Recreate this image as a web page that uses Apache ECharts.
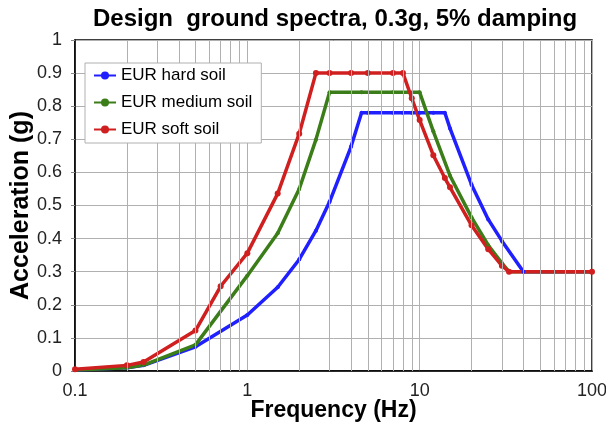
<!DOCTYPE html>
<html>
<head>
<meta charset="utf-8">
<script src="https://cdn.jsdelivr.net/npm/echarts@6/dist/echarts.min.js"></script>
<style>
  html, body { margin: 0; padding: 0; background: #fff; }
  #chart { width: 606px; height: 423px; }
</style>
</head>
<body>
<div id="chart"></div>
<script>
// frequencies (Hz) and spectral accelerations (g)
var hardFreq = [0.1, 0.2, 0.25, 0.5, 1, 1.5, 2, 2.5, 3, 4, 4.6, 5, 7, 8, 9, 10, 12, 14, 15, 20, 25, 30, 40, 100]
var hardAcc = [0.003, 0.01, 0.017, 0.073, 0.169, 0.253, 0.337, 0.424, 0.511, 0.678, 0.78, 0.78, 0.78, 0.78, 0.78, 0.78, 0.78, 0.78, 0.733, 0.563, 0.458, 0.393, 0.3, 0.3]

var mediumFreq = [0.1, 0.2, 0.25, 0.5, 1, 1.5, 2, 2.5, 3, 4.6, 7, 10, 12, 15, 20, 25, 30, 33, 100]
var mediumAcc = [0.003, 0.01, 0.018, 0.079, 0.288, 0.416, 0.55, 0.699, 0.842, 0.842, 0.842, 0.842, 0.724, 0.59, 0.464, 0.38, 0.326, 0.3, 0.3]

var softFreq = [0.1, 0.2, 0.25, 0.5, 0.7, 1, 1.5, 2, 2.5, 3, 4, 5, 7, 8, 9, 10, 12, 14, 15, 20, 25, 30, 33, 100]
var softAcc = [0.005, 0.017, 0.027, 0.122, 0.256, 0.356, 0.536, 0.717, 0.9, 0.9, 0.9, 0.9, 0.9, 0.9, 0.824, 0.758, 0.652, 0.583, 0.555, 0.44, 0.368, 0.318, 0.3, 0.3]

var seriesNames = ['EUR hard soil', 'EUR medium soil', 'EUR soft soil']
var yTicks = [0, 0.1, 0.2, 0.3, 0.4, 0.5, 0.6, 0.7, 0.8, 0.9, 1]
// minor log grid lines (2..9 in each decade)
var minorGridFreqs = [0.2, 0.3, 0.4, 0.5, 0.6, 0.7, 0.8, 0.9, 2, 3, 4, 5, 6, 7, 8, 9, 20, 30, 40, 50, 60, 70, 80, 90]

function pairs(xs, ys) {
  var out = []
  for (var i = 0; i < xs.length; i++) {
    out.push([xs[i], ys[i]])
  }
  return out
}

var font = 'Liberation Sans, Arial, Helvetica, sans-serif'
var gridColor = '#b0b0b0'

function lineSeries(name, data, color, symbolSize) {
  return {
    name: name,
    type: 'line',
    data: data,
    symbol: 'circle',
    symbolSize: symbolSize,
    showSymbol: true,
    itemStyle: { color: color },
    lineStyle: { color: color, width: 3.5 },
    z: 3,
    animation: false
  }
}

var chart = echarts.init(document.getElementById('chart'))
chart.setOption({
  backgroundColor: '#fff',
  title: {
    text: 'Design  ground spectra, 0.3g, 5% damping',
    left: 88,
    top: 2,
    textStyle: { fontFamily: font, fontWeight: 'bold', fontSize: 24, color: '#000' }
  },
  grid: {
    left: 75,
    right: 14,
    top: 40,
    bottom: 52,
    containLabel: false,
    outerBoundsMode: 'none',
    show: true,
    borderColor: '#000',
    borderWidth: 1.5,
    backgroundColor: '#fff'
  },
  legend: {
    orient: 'vertical',
    left: 85,
    top: 63,
    z: 10,
    data: seriesNames,
    backgroundColor: '#fff',
    borderColor: '#b0b0b0',
    borderWidth: 1,
    padding: [4, 9, 5, 8],
    itemGap: 10,
    itemWidth: 22,
    itemHeight: 10,
    textStyle: { fontFamily: font, fontSize: 17, color: '#000' }
  },
  xAxis: {
    type: 'log',
    logBase: 10,
    min: 0.1,
    max: 100,
    name: 'Frequency (Hz)',
    nameLocation: 'middle',
    nameMoveOverlap: false,
    nameGap: 28,
    nameTextStyle: { fontFamily: font, fontWeight: 'bold', fontSize: 23, color: '#000' },
    axisLine: { show: true, lineStyle: { color: '#000', width: 1.5 } },
    axisTick: { show: false },
    axisLabel: {
      fontFamily: font, fontSize: 18, color: '#222', margin: 11,
      formatter: function (v) { return String(v) }
    },
    splitLine: { show: true, lineStyle: { color: gridColor, width: 1 } }
  },
  yAxis: {
    type: 'value',
    min: yTicks[0],
    max: yTicks[yTicks.length - 1],
    interval: 0.1,
    name: 'Acceleration (g)',
    nameLocation: 'middle',
    nameMoveOverlap: false,
    nameGap: 41,
    nameTextStyle: { fontFamily: font, fontWeight: 'bold', fontSize: 25, color: '#000' },
    axisLine: { show: true, lineStyle: { color: '#000', width: 1.5 } },
    axisTick: { show: true, length: 4, lineStyle: { color: '#888' } },
    axisLabel: {
      fontFamily: font, fontSize: 18, color: '#222', margin: 13,
      formatter: function (v) { return String(Math.round(v * 10) / 10) }
    },
    splitLine: { show: true, lineStyle: { color: gridColor, width: 1 } }
  },
  series: [
    {
      type: 'line',
      data: [],
      z: 1,
      silent: true,
      animation: false,
      markLine: {
        silent: true,
        symbol: ['none', 'none'],
        label: { show: false },
        animation: false,
        lineStyle: { color: gridColor, type: 'solid', width: 1 },
        data: minorGridFreqs.map(function (f) { return { xAxis: f } })
      }
    },
    lineSeries(seriesNames[0], pairs(hardFreq, hardAcc), '#1f1fff', 4),
    lineSeries(seriesNames[1], pairs(mediumFreq, mediumAcc), '#3b7d18', 4),
    lineSeries(seriesNames[2], pairs(softFreq, softAcc), '#d01f1f', 6)
  ]
})
</script>
</body>
</html>
